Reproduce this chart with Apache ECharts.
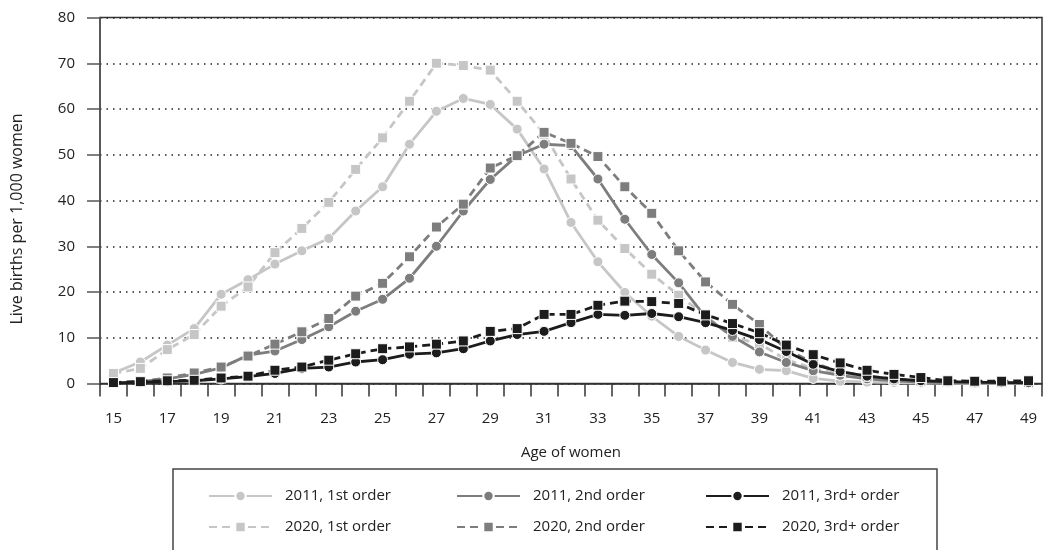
<!DOCTYPE html>
<html>
<head>
<meta charset="utf-8">
<script src="https://cdn.jsdelivr.net/npm/echarts@6/dist/echarts.min.js"></script>
<style>
  html, body { margin: 0; padding: 0; background: #fff; }
  #chart { width: 1043px; height: 550px; }
</style>
</head>
<body>
<div id="chart"></div>
<script>
// Ages 15..49
const ages = [];
for (let a = 15; a <= 49; a++) ages.push(String(a));

// Live births per 1,000 women
const first2011 = [2.3, 4.7, 8.4, 12.0, 19.5, 22.7, 26.1, 29.0, 31.7, 37.7, 43.0, 52.3, 59.5, 62.3, 61.0, 55.6, 46.9, 35.2, 26.6, 19.9, 14.7, 10.3, 7.3, 4.6, 3.1, 2.8, 1.1, 0.5, 0.3, 0.2, 0.1, 0.1, 0.0, 0.0, 0.0];
const first2020 = [2.2, 3.3, 7.4, 10.7, 16.9, 21.1, 28.6, 33.9, 39.6, 46.8, 53.7, 61.7, 70.0, 69.5, 68.5, 61.7, 54.5, 44.7, 35.7, 29.5, 23.9, 19.3, 14.8, 10.1, 8.7, 5.2, 3.3, 2.0, 1.2, 0.7, 0.4, 0.2, 0.1, 0.1, 0.0];
const second2011 = [0.1, 0.4, 1.0, 2.0, 3.4, 6.2, 7.1, 9.6, 12.4, 15.8, 18.4, 23.0, 30.0, 37.7, 44.6, 49.8, 52.3, 52.0, 44.7, 35.9, 28.2, 22.0, 14.5, 10.3, 6.9, 4.6, 2.8, 1.8, 1.0, 0.6, 0.3, 0.2, 0.1, 0.1, 0.0];
const second2020 = [0.2, 0.5, 1.2, 2.3, 3.6, 6.0, 8.6, 11.3, 14.2, 19.1, 21.9, 27.7, 34.2, 39.2, 47.1, 49.8, 54.9, 52.5, 49.6, 43.0, 37.2, 29.0, 22.2, 17.3, 12.9, 7.5, 4.5, 2.6, 1.6, 1.0, 0.6, 0.4, 0.3, 0.2, 0.2];
const third2011 = [0.1, 0.3, 0.4, 0.6, 1.0, 1.5, 2.2, 3.3, 3.6, 4.7, 5.2, 6.4, 6.7, 7.6, 9.3, 10.7, 11.4, 13.3, 15.1, 14.9, 15.3, 14.6, 13.3, 11.6, 9.6, 7.0, 4.2, 2.6, 1.6, 1.0, 0.6, 0.4, 0.3, 0.2, 0.2];
const third2020 = [0.2, 0.4, 0.6, 0.7, 1.2, 1.6, 2.9, 3.6, 5.1, 6.5, 7.6, 8.0, 8.6, 9.3, 11.4, 12.0, 15.1, 15.1, 17.1, 18.0, 17.9, 17.5, 15.0, 13.1, 11.1, 8.4, 6.3, 4.5, 2.9, 2.0, 1.3, 0.6, 0.5, 0.5, 0.6];

const FONT = '"Open Sans", sans-serif';
const LIGHT = '#c6c6c6';
const MID = '#7d7d7d';
const DARK = '#1c1c1c';

function makeSeries(name, data, color, dashed) {
  return {
    name: name,
    type: 'line',
    data: data,
    symbol: dashed ? 'rect' : 'circle',
    symbolSize: 10,
    lineStyle: { color: color, width: 2.8, type: dashed ? [8, 5] : 'solid' },
    itemStyle: { color: color, borderColor: '#fff', borderWidth: 1 },
    emphasis: { disabled: true },
    animation: false
  };
}

function legendColumn(left, names) {
  return {
    left: left,
    top: 487,
    orient: 'vertical',
    padding: 0,
    itemGap: 13,
    itemWidth: 63,
    itemHeight: 13,
    data: names,
    textStyle: { fontFamily: FONT, fontSize: 15, color: '#222', padding: [0, 0, 0, 8], lineHeight: 18 }
  };
}

const chart = echarts.init(document.getElementById('chart'));

chart.setOption({
  backgroundColor: '#fff',
  animation: false,
  grid: {
    left: 100, right: 1, top: 17.5, bottom: 166.5,
    show: true, borderColor: '#333', borderWidth: 1.5
  },
  xAxis: {
    type: 'category',
    data: ages,
    boundaryGap: true,
    name: 'Age of women',
    nameLocation: 'middle',
    nameGap: 62,
    nameTextStyle: { fontFamily: FONT, fontSize: 15, color: '#222' },
    axisLine: { lineStyle: { color: '#333', width: 1.5 } },
    axisTick: { show: true, interval: 0, length: 13, lineStyle: { color: '#333', width: 1.5 } },
    axisLabel: { interval: 1, margin: 28, fontFamily: FONT, fontSize: 15, color: '#222' },
    splitLine: { show: false }
  },
  yAxis: {
    type: 'value',
    min: 0, max: 80, interval: 10,
    axisLine: { show: true, lineStyle: { color: '#555', width: 1.5 } },
    axisTick: { show: true, length: 13, lineStyle: { color: '#555', width: 1.5 } },
    axisLabel: { margin: 25, fontFamily: FONT, fontSize: 15, color: '#222' },
    splitLine: { show: true, lineStyle: { color: '#222', width: 1.5, type: [1.5, 5] } }
  },
  graphic: [
    {
      type: 'text',
      x: 17, y: 219,
      rotation: Math.PI / 2,
      style: {
        text: 'Live births per 1,000 women',
        fontFamily: FONT, fontSize: 16, fill: '#222',
        align: 'center', verticalAlign: 'middle'
      }
    },
    {
      type: 'rect',
      shape: { x: 173, y: 469, width: 764, height: 100 },
      style: { fill: 'none', stroke: '#444', lineWidth: 1.5 },
      z: -1
    }
  ],
  legend: [
    legendColumn(208, ['2011, 1st order', '2020, 1st order']),
    legendColumn(456, ['2011, 2nd order', '2020, 2nd order']),
    legendColumn(705, ['2011, 3rd+ order', '2020, 3rd+ order'])
  ],
  series: [
    makeSeries('2011, 1st order', first2011, LIGHT, false),
    makeSeries('2020, 1st order', first2020, LIGHT, true),
    makeSeries('2011, 2nd order', second2011, MID, false),
    makeSeries('2020, 2nd order', second2020, MID, true),
    makeSeries('2011, 3rd+ order', third2011, DARK, false),
    makeSeries('2020, 3rd+ order', third2020, DARK, true)
  ]
});
</script>
</body>
</html>
